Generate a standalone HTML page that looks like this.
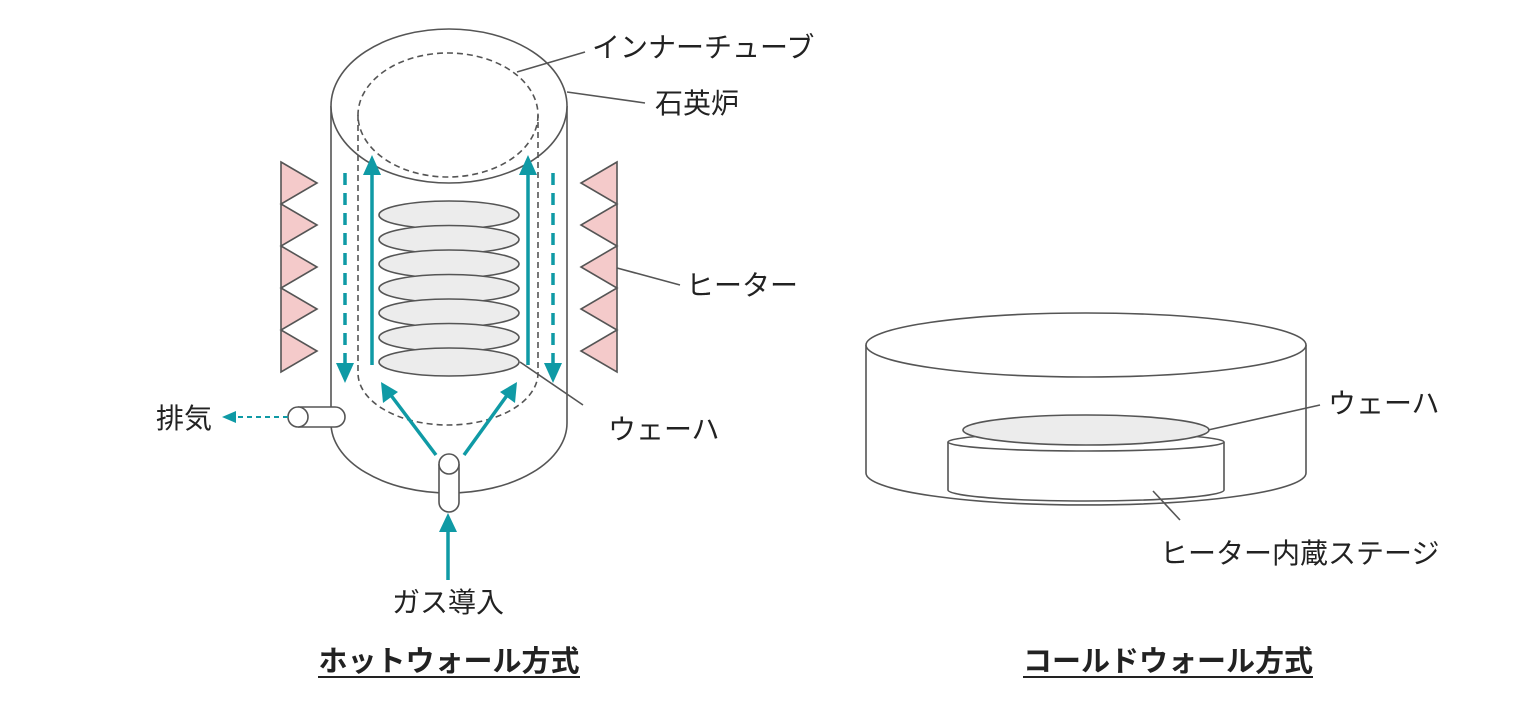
<!DOCTYPE html>
<html><head><meta charset="utf-8"><style>
html,body{margin:0;padding:0;background:#fff;}
svg{display:block;}
text{font-family:"Liberation Sans","Noto Sans CJK JP",sans-serif;fill:#222;}
</style></head><body>
<svg width="1536" height="719" viewBox="0 0 1536 719" xmlns="http://www.w3.org/2000/svg">
<g fill="none" stroke="#555" stroke-width="1.6">
<path d="M331,106 L331,423 A118,70 0 0 0 567,423 L567,106" fill="#fff"/>
<ellipse cx="449" cy="106" rx="118" ry="77" fill="#fff"/>
<g stroke-dasharray="6,4">
<ellipse cx="448" cy="115" rx="90" ry="62"/>
<path d="M358,115 L358,373 A90,52 0 0 0 538,373 L538,115"/>
</g>
<g fill="#ececec">
<ellipse cx="449" cy="215" rx="70" ry="14"/>
<ellipse cx="449" cy="239.5" rx="70" ry="14"/>
<ellipse cx="449" cy="264" rx="70" ry="14"/>
<ellipse cx="449" cy="288.5" rx="70" ry="14"/>
<ellipse cx="449" cy="313" rx="70" ry="14"/>
<ellipse cx="449" cy="337.5" rx="70" ry="14"/>
<ellipse cx="449" cy="362" rx="70" ry="14"/>
</g>
<g fill="#f4caca">
<path d="M281,162 L317,183 L281,204 L317,225 L281,246 L317,267 L281,288 L317,309 L281,330 L317,351 L281,372 Z"/>
<path d="M617,162 L581,183 L617,204 L581,225 L617,246 L581,267 L617,288 L581,309 L617,330 L581,351 L617,372 Z"/>
</g>
<path d="M298,407 L335,407 A10,10 0 0 1 335,427 L298,427" fill="#fff"/>
<ellipse cx="298" cy="417" rx="10" ry="10" fill="#fff"/>
<path d="M439,464 L439,502 A10,10 0 0 0 459,502 L459,464" fill="#fff"/>
<ellipse cx="449" cy="464" rx="10" ry="10" fill="#fff"/>
<line x1="517" y1="72" x2="585" y2="52"/>
<line x1="567" y1="92" x2="645" y2="103"/>
<line x1="617" y1="268" x2="680" y2="285"/>
<line x1="520" y1="362" x2="583" y2="405"/>
<path d="M866,345 L866,473 A220,32 0 0 0 1306,473 L1306,345" fill="#fff"/>
<ellipse cx="1086" cy="345" rx="220" ry="32" fill="#fff"/>
<path d="M948,442 L948,490 A138,11 0 0 0 1224,490 L1224,442" fill="#fff"/>
<ellipse cx="1086" cy="442" rx="138" ry="9" fill="#fff"/>
<ellipse cx="1086" cy="430" rx="123" ry="15" fill="#ececec"/>
<line x1="1208" y1="430" x2="1320" y2="405"/>
<line x1="1153" y1="491" x2="1180" y2="520"/>
</g>
<g stroke="#0f9aa5" stroke-width="3.5" fill="none">
<line x1="372" y1="365" x2="372" y2="172"/>
<line x1="528" y1="365" x2="528" y2="172"/>
<line x1="345" y1="173" x2="345" y2="365" stroke-dasharray="12,8"/>
<line x1="553" y1="173" x2="553" y2="365" stroke-dasharray="12,8"/>
<line x1="436" y1="455" x2="390" y2="394"/>
<line x1="464" y1="455" x2="508" y2="394"/>
<line x1="448" y1="580" x2="448" y2="528"/>
<line x1="288" y1="417" x2="236" y2="417" stroke-width="2" stroke-dasharray="5,4"/>
</g>
<g fill="#0f9aa5">
<polygon points="372,155 363,175 381,175"/>
<polygon points="528,155 519,175 537,175"/>
<polygon points="345,383 336,363 354,363"/>
<polygon points="553,383 544,363 562,363"/>
<polygon points="381,382 383,403 398,392"/>
<polygon points="517,382 500,392 515,403"/>
<polygon points="448,513 439,532 457,532"/>
<polygon points="222,417 236,411 236,423"/>
</g>
<g font-size="28">
<text x="592" y="57">インナーチューブ</text>
<text x="655" y="113">石英炉</text>
<text x="686" y="295">ヒーター</text>
<text x="608" y="439">ウェーハ</text>
<text x="156" y="428">排気</text>
<text x="392" y="612">ガス導入</text>
<text x="1328" y="413">ウェーハ</text>
<text x="1160" y="563">ヒーター内蔵ステージ</text>
</g>
<g font-size="29" font-weight="bold" text-anchor="middle">
<text x="449" y="671">ホットウォール方式</text>
<text x="1168" y="671">コールドウォール方式</text>
</g>
<line x1="318" y1="677" x2="580" y2="677" stroke="#222" stroke-width="2"/>
<line x1="1023" y1="677" x2="1313" y2="677" stroke="#222" stroke-width="2"/>
</svg>
</body></html>
